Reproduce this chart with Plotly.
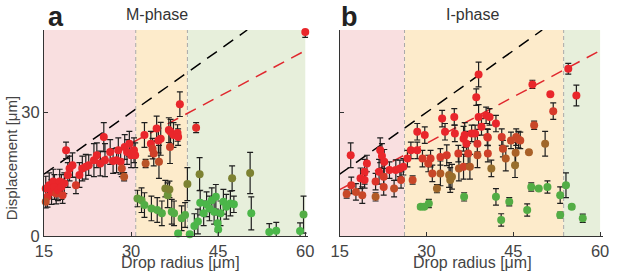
import plotly.graph_objects as go

# ---------------- data ----------------
# Panel a (M-phase)
m_radius = [15.3, 15.6, 15.3, 15.9, 16.3, 16.6, 16.8, 17.1, 17.4, 17.7, 18.0, 18.2, 18.5, 18.8, 19.1,
            19.4, 19.9, 20.5, 21.1, 21.6, 22.2, 22.7, 23.6, 24.1, 24.7, 25.3, 25.5, 26.4, 26.9, 27.5,
            27.8, 28.2, 28.4, 28.8, 28.9, 29.3, 29.7, 30.0, 30.5, 30.7,
            32.3, 32.5, 33.4, 33.7, 33.9, 34.4, 34.7, 35.1, 34.8, 36.5, 36.8, 36.7, 37.3, 38.0, 38.1, 38.4,
            31.1, 31.8, 32.3, 33.5, 34.5, 35.3, 35.9, 36.3, 36.6, 37.0, 37.4, 38.1, 38.7, 39.3, 39.7, 40.1,
            41.2, 41.8, 40.9, 41.5, 41.9, 42.5, 43.0, 43.5, 43.9, 44.3, 44.6, 44.9, 45.0, 45.4, 45.9,
            46.4, 47.1, 47.4, 47.7, 50.5, 50.7, 53.8, 55.0, 59.1, 59.7, 60.0]
m_disp = [11.5, 9.5, 8.3, 12.3, 10.7, 13.2, 11.9, 10.3, 11.1, 13.2, 11.9, 9.9, 12.8, 20.8, 14.8,
          16.4, 17.2, 12.3, 14.8, 16.4, 16.8, 17.2, 18.4, 19.6, 17.6, 24.0, 18.4, 20.4, 18.2, 18.4,
          20.8, 18.0, 16.4, 14.4, 21.6, 20.4, 22.4, 19.6, 20.8, 19.6,
          24.5, 17.6, 22.4, 21.2, 20.0, 26.1, 23.2, 23.6, 18.0, 25.7, 25.3, 21.6, 24.5, 25.0, 24.0, 32.0,
          9.1, 8.7, 7.5, 6.7, 6.3, 5.5, 11.5, 9.9, 11.3, 5.9, 5.5, 0.6, 4.3, 5.1, 12.6, 0.4,
          26.3, 15.0, 2.4, 3.5, 8.1, 5.5, 7.7, 6.7, 8.7, 5.9, 9.5, 3.1, 1.6, 5.5, 8.3,
          7.1, 7.9, 14.0, 7.7, 15.3, 5.5, 1.0, 1.3, 1.2, 5.2, 49.5]
m_err = [3.0, 2.5, 1.5, 3.0, 3.0, 3.0, 3.0, 2.5, 2.5, 3.0, 3.0, 2.0, 2.5, 2.0, 3.0,
         3.0, 3.0, 2.0, 3.0, 3.0, 3.0, 2.5, 4.0, 3.0, 3.0, 3.5, 4.0, 3.0, 3.0, 3.0,
         3.0, 3.0, 2.0, 1.0, 3.0, 3.0, 3.0, 3.0, 3.0, 3.0,
         3.0, 1.0, 3.0, 2.5, 3.0, 3.0, 3.0, 4.0, 4.0, 3.0, 3.0, 4.0, 3.0, 2.0, 2.0, 3.0,
         2.0, 3.0, 3.0, 3.0, 3.0, 3.0, 2.0, 3.0, 2.0, 3.0, 3.0, 0.5, 3.0, 3.0, 4.0, 0.5,
         1.2, 4.0, 3.0, 3.0, 3.0, 3.0, 3.0, 3.0, 3.0, 3.0, 3.0, 2.0, 2.0, 3.0, 3.0,
         3.0, 3.0, 3.0, 2.0, 5.0, 4.0, 2.0, 2.0, 2.0, 4.5, 1.3]
m_frac = [1, 0.9, 0.7, 1, 1, 1, 1, 0.85, 1, 1, 1, 0.85, 1, 1, 1,
          1, 1, 0.85, 1, 1, 1, 1, 1, 1, 1, 1, 1, 1, 1, 1,
          1, 1, 0.75, 0.65, 1, 1, 1, 1, 1, 1,
          1, 0.65, 1, 0.85, 0.8, 1, 1, 1, 0.7, 1, 1, 0.8, 1, 1, 1, 1,
          0.15, 0.1, 0.05, 0.05, 0.05, 0.05, 0.3, 0.2, 0.3, 0.05, 0.05, 0, 0.05, 0.05, 0.3, 0,
          0.95, 0.3, 0, 0, 0, 0, 0, 0, 0, 0, 0, 0, 0, 0, 0,
          0, 0, 0.3, 0, 0.3, 0, 0, 0, 0, 0.05, 1]

# Panel b (I-phase)
i_radius = [16.2, 16.9, 17.0, 17.8, 18.6, 18.9, 19.3, 19.3, 19.7, 21.2, 21.2, 21.8, 22.0, 22.3, 22.6,
            22.6, 22.7, 23.6, 24.4, 24.7, 25.4, 25.6, 26.0, 26.7, 27.6, 27.3, 28.4, 28.4, 29.3, 29.7,
            30.3, 30.7, 30.4, 29.0, 29.6, 31.0, 31.8, 32.4, 32.7, 33.2, 33.5, 32.4, 33.9, 34.1, 34.4,
            34.8, 34.9, 35.5, 35.6, 36.4, 36.5, 36.4, 36.6, 36.9, 37.2, 37.5, 37.8, 38.4, 38.6, 38.8,
            38.8, 39.0, 39.0, 39.5, 40.3, 40.6, 40.6, 40.9, 41.2, 42.0, 42.0, 42.9, 43.0, 43.2, 43.7,
            44.3, 45.3, 45.5, 45.9, 46.2, 47.4, 47.7, 48.3, 48.6, 48.1, 49.4, 50.5, 50.9, 51.4, 51.9,
            53.1, 53.1, 54.1, 54.5, 55.1, 55.9, 57.0, 44.6, 45.4, 40.5]
i_disp = [10.2, 19.6, 12.3, 10.7, 14.0, 9.9, 15.6, 13.6, 17.6, 13.2, 9.5, 15.6, 20.8, 19.4, 14.4,
          11.9, 18.0, 16.0, 11.5, 16.0, 16.4, 13.6, 16.8, 18.8, 13.6, 20.8, 25.3, 20.8, 18.8, 24.5,
          17.6, 18.8, 7.9, 7.1, 7.1, 15.2, 11.5, 19.2, 28.5, 25.3, 19.6, 15.2, 14.8, 13.6, 14.4,
          28.9, 24.9, 20.0, 16.4, 16.8, 9.5, 23.6, 24.5, 22.4, 20.0, 16.8, 24.9, 24.9, 33.7, 22.4,
          19.6, 39.2, 28.9, 26.5, 29.3, 23.9, 20.0, 28.9, 16.4, 27.3, 9.5, 3.9, 24.0, 21.2, 18.8,
          8.3, 17.2, 24.0, 23.4, 23.2, 6.3, 20.3, 36.8, 26.9, 11.9, 11.5, 22.4, 11.9, 34.4, 30.3,
          9.9, 5.1, 12.3, 40.6, 7.1, 34.1, 4.3, 23.2, 20.2, 24.0]
i_err = [1.0, 3.0, 2.0, 2.0, 2.5, 2.0, 3.0, 2.0, 2.0, 2.0, 1.0, 3.0, 3.0, 3.0, 2.0,
         2.0, 3.0, 2.0, 2.0, 2.5, 2.0, 2.0, 2.0, 2.0, 1.0, 2.0, 2.0, 2.0, 2.0, 2.0,
         2.0, 2.0, 1.0, 0.5, 0.5, 2.0, 1.0, 2.0, 2.0, 2.0, 2.5, 3.0, 3.0, 3.0, 3.0,
         2.0, 2.0, 2.0, 3.0, 3.0, 1.0, 3.0, 3.0, 3.0, 2.5, 3.0, 2.0, 2.0, 2.0, 2.0,
         3.0, 3.0, 3.0, 2.0, 2.0, 2.0, 2.0, 2.0, 2.0, 2.0, 2.0, 1.5, 2.0, 2.0, 3.0,
         1.0, 3.0, 2.0, 2.0, 2.0, 1.5, 0.5, 1.0, 1.0, 1.0, 0.5, 3.0, 1.5, 0.0, 2.0,
         2.0, 0.7, 3.0, 1.3, 0.5, 2.5, 1.0, 2.0, 2.5, 2.0]
i_frac = [0.75, 1, 0.9, 0.75, 1, 0.75, 1, 1, 1, 0.9, 0.6, 1, 1, 1, 0.85,
          0.8, 1, 1, 0.7, 1, 1, 0.8, 1, 1, 0.75, 1, 1, 1, 0.85, 1,
          0.8, 0.85, 0.05, 0.05, 0.05, 0.75, 0.5, 0.85, 1, 1, 0.85, 0.6, 0.5, 0.45, 0.45,
          1, 1, 0.85, 0.6, 0.8, 0.05, 1, 1, 1, 0.85, 0.6, 1, 1, 1, 0.9,
          0.7, 1, 1, 1, 1, 0.85, 0.8, 1, 0.45, 1, 0.05, 0.05, 0.85, 0.75, 0.6,
          0.05, 0.45, 0.75, 0.75, 0.75, 0.05, 0.55, 1, 0.75, 0.05, 0.05, 0.5, 0.05, 1, 0.85,
          0.05, 0.05, 0.05, 1, 0.05, 1, 0.05, 0.75, 0.55, 0.9]

x_ticks = [15, 30, 45, 60]
y_ticks = [0, 30]
m_regions = [(15, 30.8, "#f9dfe0"), (30.8, 39.7, "#fdebcb"), (39.7, 60, "#e7efdb")]
i_regions = [(15, 26.2, "#f9dfe0"), (26.2, 53.7, "#fdebcb"), (53.7, 60, "#e7efdb")]
fit_slopes = {"black": 1.0, "red": 0.75}

colorscale = [[0.0, "#4bb649"], [0.3, "#7d8232"], [0.6, "#b25a26"], [0.85, "#d63a2a"], [1.0, "#e9262b"]]

# ---------------- figure ----------------
fig = go.Figure()
FONT = "Liberation Sans, Arial, sans-serif"

panels = [("x", "y", m_radius, m_disp, m_err, m_frac, m_regions),
          ("x2", "y2", i_radius, i_disp, i_err, i_frac, i_regions)]

shapes = []
for xa, ya, xs, ys, es, cs, regions in panels:
    for (a, b, col) in regions:
        shapes.append(dict(type="rect", xref=xa, yref=ya, x0=a, x1=b, y0=0, y1=50,
                           fillcolor=col, line=dict(width=0), layer="below"))
    for (a, b, col) in regions[1:]:
        shapes.append(dict(type="line", xref=xa, yref=ya, x0=a, x1=a, y0=0, y1=50,
                           line=dict(color="#a9a9a9", width=1, dash="4px,3px"), layer="below"))
    xb = [15, 50]
    fig.add_trace(go.Scatter(x=xb, y=[v * fit_slopes["black"] for v in xb], xaxis=xa, yaxis=ya,
                             mode="lines", line=dict(color="black", width=1.5, dash="12px,8px"),
                             hoverinfo="skip", showlegend=False))
    xr = [15, 60]
    fig.add_trace(go.Scatter(x=xr, y=[v * fit_slopes["red"] for v in xr], xaxis=xa, yaxis=ya,
                             mode="lines", line=dict(color="#e0282e", width=1.5, dash="12px,8px"),
                             hoverinfo="skip", showlegend=False))
    fig.add_trace(go.Scatter(x=xs, y=ys, xaxis=xa, yaxis=ya, mode="markers",
                             error_y=dict(type="data", array=es, color="#1e1e1e", thickness=1.2, width=3),
                             marker=dict(size=8, color=cs, colorscale=colorscale, cmin=0, cmax=1,
                                         line=dict(width=0)),
                             showlegend=False, cliponaxis=False))

axis_common = dict(range=[15, 60.5], tickvals=x_ticks, ticks="inside", ticklen=4, tickcolor="#333",
                   showline=True, linecolor="#333", linewidth=1, showgrid=False, zeroline=False,
                   tickfont=dict(family=FONT, size=16.5, color="#444"))
yaxis_common = dict(range=[0, 50], tickvals=y_ticks, ticks="inside", ticklen=4, tickcolor="#333",
                    showline=True, linecolor="#333", linewidth=1, showgrid=False, zeroline=False,
                    tickfont=dict(family=FONT, size=16.5, color="#444"))

PW, PH, ML, MB = 565, 206, 44, 38


def px_x(p):
    return (p - ML) / PW


def px_y(p):
    return (274 - MB - p) / PH


fig.update_layout(
    width=617, height=274,
    margin=dict(l=ML, r=8, t=30, b=MB),
    paper_bgcolor="white", plot_bgcolor="white",
    xaxis=dict(domain=[0, 0.4726], anchor="y", **axis_common),
    yaxis=dict(domain=[0, 1], anchor="x", **yaxis_common),
    xaxis2=dict(domain=[0.529, 1], anchor="y2", **axis_common),
    yaxis2=dict(domain=[0, 1], anchor="x2", showticklabels=False, **yaxis_common),
    shapes=shapes,
    annotations=[
        dict(text="<b>a</b>", x=px_x(56), y=px_y(17), xref="paper", yref="paper",
             showarrow=False, font=dict(family=FONT, size=27, color="#222"), xanchor="center", yanchor="middle"),
        dict(text="M-phase", x=px_x(158), y=px_y(14), xref="paper", yref="paper",
             showarrow=False, font=dict(family=FONT, size=16, color="#333"), xanchor="center", yanchor="middle"),
        dict(text="<b>b</b>", x=px_x(353), y=px_y(17), xref="paper", yref="paper",
             showarrow=False, font=dict(family=FONT, size=27, color="#222"), xanchor="center", yanchor="middle"),
        dict(text="I-phase", x=px_x(477), y=px_y(14), xref="paper", yref="paper",
             showarrow=False, font=dict(family=FONT, size=16, color="#333"), xanchor="center", yanchor="middle"),
        dict(text="Drop radius [μm]", x=px_x(182), y=px_y(262), xref="paper", yref="paper",
             showarrow=False, font=dict(family=FONT, size=16, color="#444"), xanchor="center", yanchor="middle"),
        dict(text="Drop radius [μm]", x=px_x(477), y=px_y(262), xref="paper", yref="paper",
             showarrow=False, font=dict(family=FONT, size=16, color="#444"), xanchor="center", yanchor="middle"),
        dict(text="Displacement [μm]", x=px_x(11), y=px_y(158), xref="paper", yref="paper",
             showarrow=False, textangle=-90, font=dict(family=FONT, size=15, color="#444"),
             xanchor="center", yanchor="middle"),
    ],
)

fig.write_html("out.html", config={"displayModeBar": False},
               post_script="document.body.style.margin='0px';")
